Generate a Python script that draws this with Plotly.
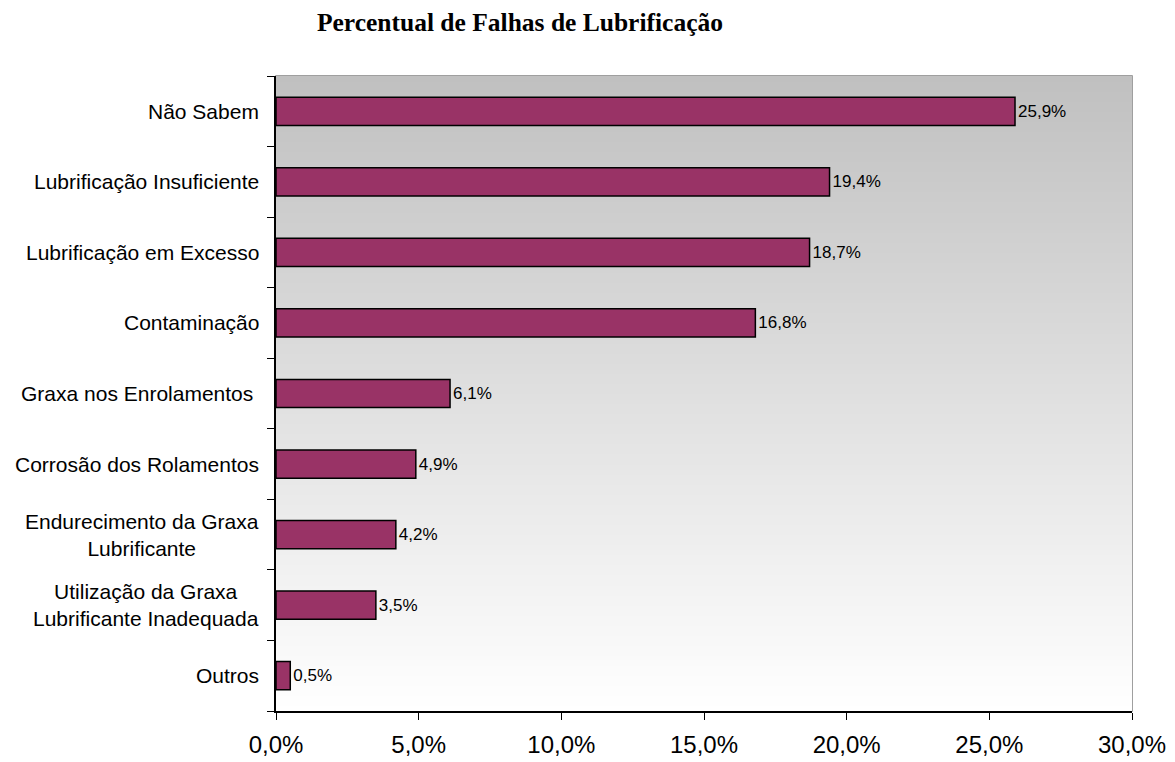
import plotly.graph_objects as go

# data, top to bottom as in the chart
categories = [
    'Não Sabem',
    'Lubrificação Insuficiente',
    'Lubrificação em Excesso',
    'Contaminação',
    'Graxa nos Enrolamentos\u00a0',
    'Corrosão dos Rolamentos',
    'Endurecimento da Graxa<br>Lubrificante',
    'Utilização da Graxa<br>Lubrificante Inadequada',
    'Outros',
]
percent = [25.9, 19.4, 18.7, 16.8, 6.1, 4.9, 4.2, 3.5, 0.5]
x_ticks = [0, 5, 10, 15, 20, 25, 30]
x_ticktext = ['0,0%', '5,0%', '10,0%', '15,0%', '20,0%', '25,0%', '30,0%']

pos = list(range(len(categories)))
labels = [('%.1f%%' % v).replace('.', ',') for v in percent]

fig = go.Figure()

# gray-to-white backdrop of the plot area
fig.add_trace(go.Heatmap(
    x=[0, 30],
    y=[-0.5, len(categories) - 0.5],
    z=[[0, 0], [1, 1]],
    colorscale=[[0, '#c0c0c0'], [1, '#ffffff']],
    zsmooth='best',
    showscale=False,
    hoverinfo='skip',
))

fig.add_trace(go.Bar(
    x=percent,
    y=pos,
    orientation='h',
    width=0.4,
    marker=dict(color='#993366', line=dict(color='#000000', width=1.5)),
    text=labels,
    textposition='outside',
    textfont=dict(family='Arial, Liberation Sans', size=17, color='#000000'),
    cliponaxis=False,
))

# category labels, centred lines like the original
for i, c in enumerate(categories):
    fig.add_annotation(
        x=0, xref='paper', y=i, yref='y',
        text=c, showarrow=False,
        xanchor='right', align='center',
        xshift=-15,
        font=dict(family='Arial, Liberation Sans', size=21, color='#000000'),
    )

# gray frame on top / right
fig.add_shape(type='rect', xref='paper', yref='paper', x0=0, x1=1, y0=0, y1=1,
              line=dict(color='#808080', width=1.5), layer='below')

# page body keeps its default 8px margin, so the figure is 8px smaller
fig.update_layout(
    width=1167,
    height=754,
    plot_bgcolor='#ffffff',
    paper_bgcolor='#ffffff',
    showlegend=False,
    margin=dict(l=268, r=43, t=68, b=51),
    title=dict(
        text='<b>Percentual de Falhas de Lubrificação</b>',
        font=dict(family='Times New Roman, Liberation Serif', size=25.5, color='#000000'),
        x=0.4387, xref='container', xanchor='center',
        y=0.981, yref='container', yanchor='middle',
    ),
    xaxis=dict(
        range=[0, 30],
        tickvals=x_ticks,
        ticktext=x_ticktext,
        ticks='outside', ticklen=7, tickcolor='#000000', tickwidth=1,
        ticklabelstandoff=4,
        automargin=False,
        showgrid=False, zeroline=False,
        showline=True, linecolor='#000000', linewidth=1.5,
        tickfont=dict(family='Arial, Liberation Sans', size=24, color='#000000'),
    ),
    yaxis=dict(
        range=[len(categories) - 0.5, -0.5],
        tickvals=[i - 0.5 for i in range(len(categories) + 1)],
        ticktext=[''] * (len(categories) + 1),
        ticks='outside', ticklen=7, tickcolor='#000000', tickwidth=1,
        automargin=False,
        showgrid=False, zeroline=False,
        showline=True, linecolor='#000000', linewidth=1.5,
    ),
)

fig.write_html("out.html")
